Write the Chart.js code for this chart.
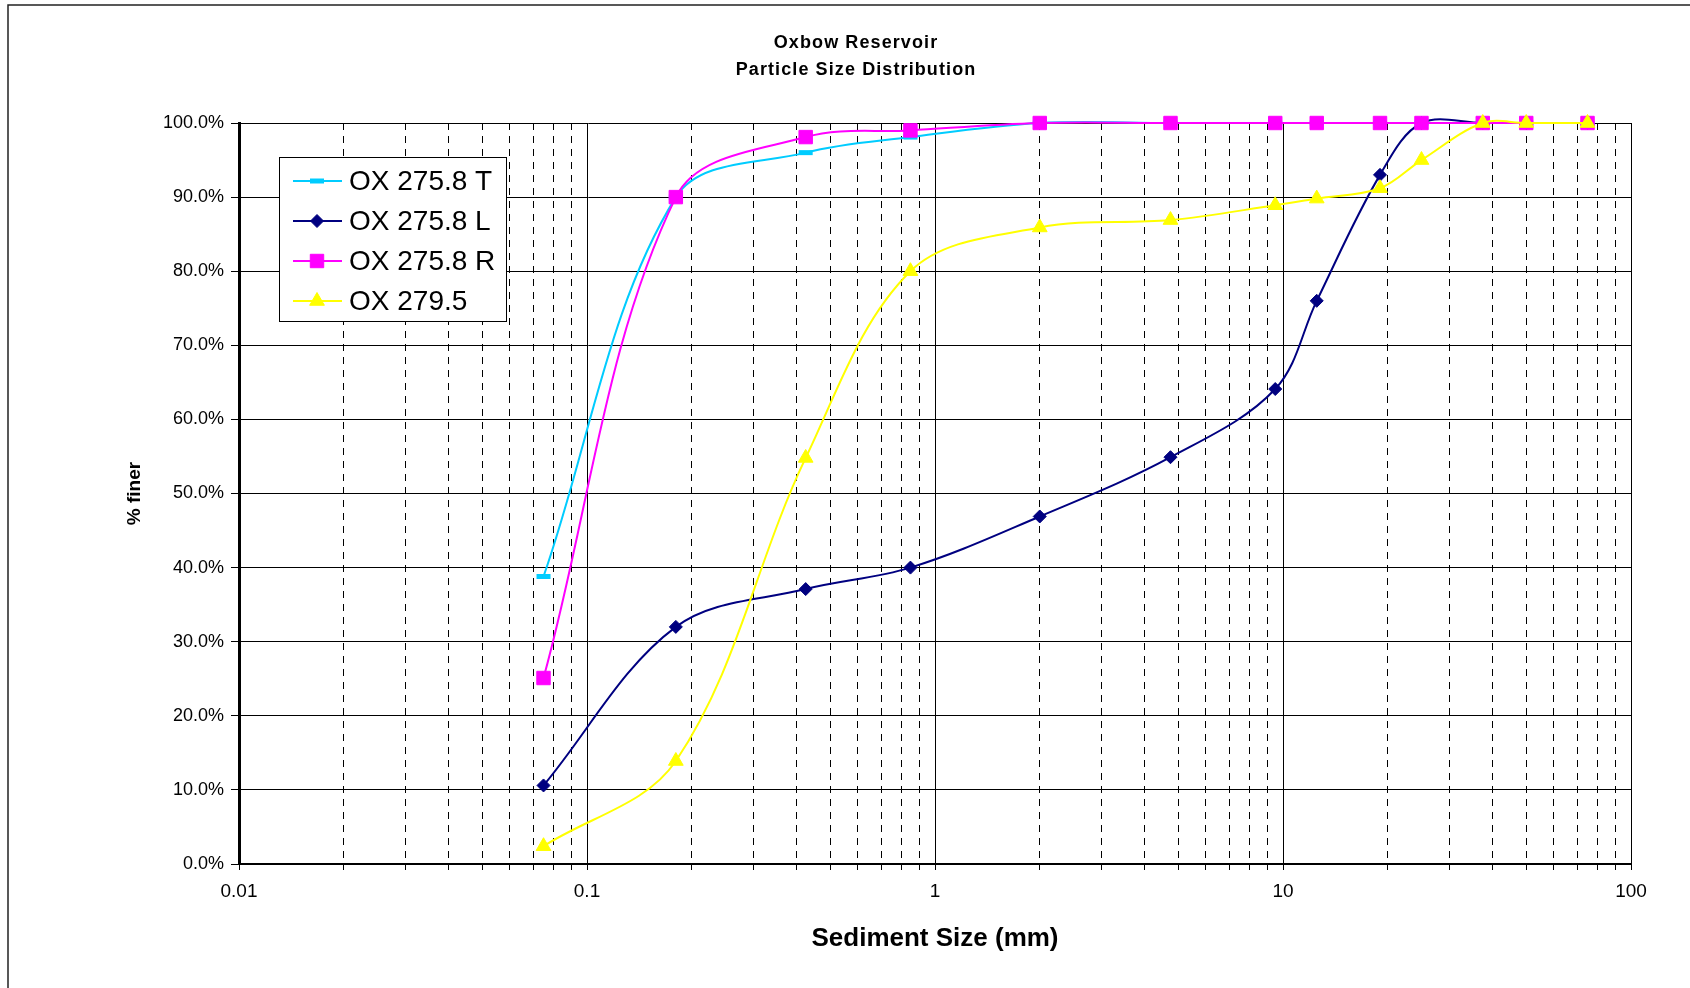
<!DOCTYPE html>
<html>
<head>
<meta charset="utf-8">
<script src="https://cdn.jsdelivr.net/npm/chart.js@4.4.0/dist/chart.umd.min.js"></script>
<style>
  html, body { margin: 0; padding: 0; background: #fff; }
  #wrap { width: 1690px; height: 988px; }
</style>
</head>
<body>
<div id="wrap"><canvas id="chart" width="1690" height="988"></canvas></div>
<script>
// sieve sizes (mm) and % finer for each sample
const sizes = [0.075, 0.18, 0.425, 0.85, 2, 4.75, 9.5, 12.5, 19, 25, 37.5, 50, 75];
const ox2758T = [38.8, 90.0, 96.0, 98.1, 100, 100, 100, 100, 100, 100, 100, 100, 100];
const ox2758L = [10.6, 32.0, 37.1, 40.0, 46.9, 54.9, 64.1, 76.0, 93.0, 100, 100, 100, 100];
const ox2758R = [25.1, 90.0, 98.1, 99.0, 100, 100, 100, 100, 100, 100, 100, 100, 100];
const ox2795 = [2.4, 13.9, 54.8, 80.0, 85.9, 86.9, 88.9, 89.8, 91.2, 95.0, 100, 100, 100];

const seriesNames = ['OX 275.8 T', 'OX 275.8 L', 'OX 275.8 R', 'OX 279.5'];
const titleLines = ['Oxbow Reservoir', 'Particle Size Distribution'];

// x axis: labelled decades, grid at 1..9 within each decade
const xDecades = [0.01, 0.1, 1, 10, 100];
const xMultipliers = [1, 2, 3, 4, 5, 6, 7, 8, 9];

const FONT = "'Liberation Sans', Arial, sans-serif";

var xTickValues = [];
xDecades.slice(0, -1).forEach(d => {
    xMultipliers.forEach(m => xTickValues.push(Number((d * m).toPrecision(6))));
});
xTickValues.push(xDecades[xDecades.length - 1]);

function isDecade(v) {
    const l = Math.log10(v);
    return Math.abs(l - Math.round(l)) < 1e-6;
}

function pts(vals) {
    return sizes.map((s, i) => ({x: s, y: vals[i]}));
}

const frame = {
    id: 'frame',
    beforeDraw: function (chart) {
        const ctx = chart.ctx;
        ctx.save();
        ctx.fillStyle = '#fff';
        ctx.fillRect(0, 0, chart.width, chart.height);
        ctx.strokeStyle = '#222';
        ctx.lineWidth = 1.5;
        ctx.strokeRect(8, 5, chart.width + 50, chart.height + 50);
        ctx.restore();
    },
    afterDraw: function (chart) {
        const ctx = chart.ctx;
        // title
        ctx.save();
        ctx.fillStyle = '#000';
        ctx.font = 'bold 18px ' + FONT;
        ctx.letterSpacing = '1.1px';
        ctx.textAlign = 'center';
        ctx.textBaseline = 'middle';
        ctx.fillText(titleLines[0], 856, 43);
        ctx.fillText(titleLines[1], 856, 70);
        ctx.restore();
    }
};

const boxLegend = {
    id: 'boxLegend',
    afterDraw: function (chart) {
        const ctx = chart.ctx;
        const x0 = 279.5, y0 = 157.5, w = 227, h = 164;
        ctx.save();
        ctx.fillStyle = '#fff';
        ctx.fillRect(x0, y0, w, h);
        ctx.strokeStyle = '#000';
        ctx.lineWidth = 1;
        ctx.strokeRect(x0, y0, w, h);
        chart.data.datasets.forEach((ds, i) => {
            const y = 181 + i * 40;
            ctx.strokeStyle = ds.borderColor;
            ctx.lineWidth = 2;
            ctx.beginPath();
            ctx.moveTo(293, y);
            ctx.lineTo(342, y);
            ctx.stroke();
            ctx.fillStyle = ds.pointBackgroundColor;
            ctx.strokeStyle = ds.pointBorderColor;
            ctx.lineWidth = ds.pointBorderWidth;
            Chart.helpers.drawPoint(ctx, {
                pointStyle: ds.pointStyle,
                radius: ds.pointRadius,
                rotation: 0,
                borderWidth: ds.pointBorderWidth
            }, 317, y);
            ctx.fillStyle = '#000';
            ctx.font = '28px ' + FONT;
            ctx.textAlign = 'left';
            ctx.textBaseline = 'middle';
            ctx.fillText(ds.label, 349, y + 1);
        });
        ctx.restore();
    }
};

function series(label, vals, color, style, radius, bw, order) {
    return {
        label: label,
        data: pts(vals),
        borderColor: color,
        backgroundColor: color,
        borderWidth: 2,
        pointStyle: style,
        pointRadius: radius,
        pointBackgroundColor: color,
        pointBorderColor: color,
        pointBorderWidth: bw,
        tension: 0.35,
        fill: false,
        clip: false,
        order: order
    };
}

new Chart(document.getElementById('chart').getContext('2d'), {
    type: 'line',
    data: {
        datasets: [
            series(seriesNames[0], ox2758T, '#00CCFF', 'line', 7, 5, 4),
            series(seriesNames[1], ox2758L, '#000080', 'rectRot', 6.5, 1, 3),
            series(seriesNames[2], ox2758R, '#FF00FF', 'rect', 9.5, 1, 2),
            series(seriesNames[3], ox2795, '#FFFF00', 'triangle', 8.5, 1, 1)
        ]
    },
    options: {
        responsive: false,
        animation: false,
        devicePixelRatio: 1,
        layout: { padding: { top: 123, right: 59, left: 0, bottom: 0 } },
        elements: { line: { capBezierPoints: false } },
        plugins: {
            legend: { display: false },
            title: { display: false },
            tooltip: { enabled: false }
        },
        scales: {
            x: {
                type: 'logarithmic',
                min: 0.01,
                max: 100,
                afterBuildTicks: function (scale) {
                    scale.ticks = xTickValues.map(v => ({value: v, major: isDecade(v)}));
                },
                afterFit: function (scale) { scale.height = 124; },
                ticks: {
                    autoSkip: false,
                    maxRotation: 0,
                    padding: 10,
                    color: '#000',
                    font: { family: FONT, size: 19 },
                    callback: function (v) { return isDecade(v) ? String(v) : ''; }
                },
                grid: { color: '#000', lineWidth: 1, tickLength: 6, tickColor: '#000' },
                border: {
                    display: true, color: '#000', width: 2,
                    dash: function (ctx) { return (ctx.tick && !isDecade(ctx.tick.value)) ? [7, 6] : []; }
                },
                title: {
                    display: true,
                    text: 'Sediment Size (mm)',
                    color: '#000',
                    font: { family: FONT, size: 26, weight: 'bold' },
                    padding: { top: 0, bottom: 34 }
                }
            },
            y: {
                min: 0,
                max: 100,
                afterFit: function (scale) { scale.width = 239; },
                ticks: {
                    stepSize: 10,
                    padding: 7,
                    color: '#000',
                    font: { family: FONT, size: 18 },
                    callback: function (v) { return v.toFixed(1) + '%'; }
                },
                grid: { color: '#000', lineWidth: 1, tickLength: 8, tickColor: '#000' },
                border: { display: true, color: '#000', width: 3 },
                title: {
                    display: true,
                    text: '% finer',
                    color: '#000',
                    font: { family: FONT, size: 19, weight: 'bold' },
                    padding: { top: 123, bottom: 0 }
                }
            }
        }
    },
    plugins: [frame, boxLegend]
});
</script>
</body>
</html>
